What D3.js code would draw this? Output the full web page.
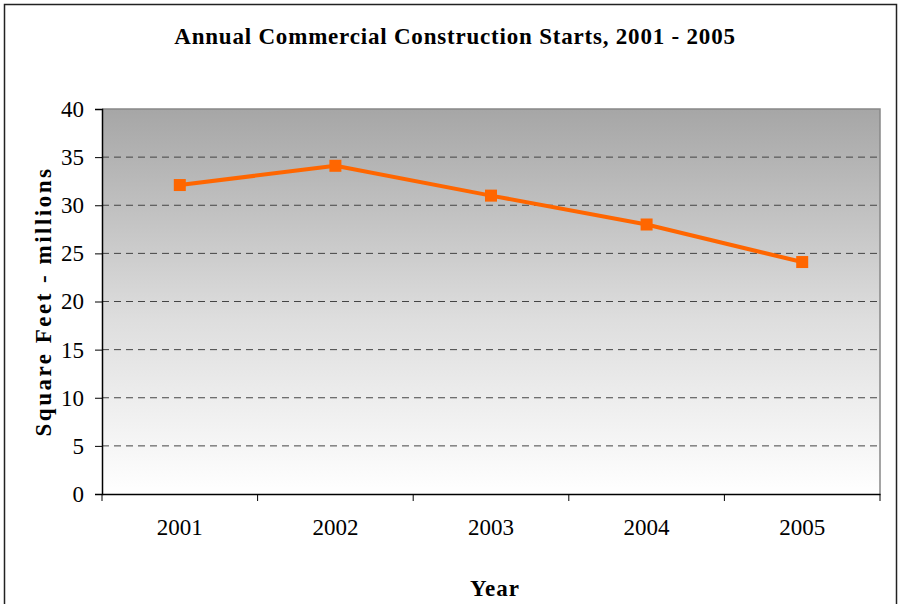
<!DOCTYPE html>
<html><head><meta charset="utf-8">
<script src="https://cdn.jsdelivr.net/npm/d3@7"></script>
<style>body{margin:0;background:#fff}svg{display:block}</style>
</head><body>
<script>
const years = ["2001","2002","2003","2004","2005"];
const values = [32.1, 34.1, 31.0, 28.0, 24.1];
const yTicks = [0,5,10,15,20,25,30,35,40];
const title = "Annual Commercial Construction Starts, 2001 - 2005";
const xTitle = "Year";
const yTitle = "Square Feet - millions";

const W = 900, H = 604;
const m = {left:102, right:20, top:109, bottom:110};
const svg = d3.select("body").append("svg").attr("width",W).attr("height",H);
const font = "'Liberation Serif','Times New Roman',serif";

svg.append("rect").attr("x",4.5).attr("y",4.5).attr("width",892).attr("height",610)
  .attr("fill","#fff").attr("stroke","#222").attr("stroke-width",1.5);

const x = d3.scaleBand().domain(years).range([m.left, W-m.right]);
const y = d3.scaleLinear().domain([0,40]).range([H-m.bottom, m.top]);

const defs = svg.append("defs");
const g = defs.append("linearGradient").attr("id","bg").attr("x1",0).attr("y1",0).attr("x2",0).attr("y2",1);
g.append("stop").attr("offset","0%").attr("stop-color","#a6a6a6");
g.append("stop").attr("offset","55%").attr("stop-color","#dedede");
g.append("stop").attr("offset","100%").attr("stop-color","#ffffff");

svg.append("rect").attr("x",m.left).attr("y",y(40)).attr("width",W-m.right-m.left)
  .attr("height",y(0)-y(40)).attr("fill","url(#bg)");

// gridlines
svg.append("g").selectAll("line").data(yTicks.filter(d=>d>0 && d<40)).join("line")
  .attr("x1",m.left).attr("x2",W-m.right).attr("y1",d=>y(d)).attr("y2",d=>y(d))
  .attr("stroke","#444").attr("stroke-width",1).attr("stroke-dasharray","7,5");

// top & right border of plot
svg.append("path").attr("d",`M${m.left},${y(40)}H${W-m.right}V${y(0)}`)
  .attr("fill","none").attr("stroke","#888").attr("stroke-width",1.5);

// y axis
const ya = svg.append("g").attr("transform",`translate(${m.left},0)`)
  .call(d3.axisLeft(y).tickValues(yTicks).tickSize(7).tickPadding(11));
ya.select(".domain").attr("stroke","#000").attr("stroke-width",1.5);
ya.selectAll(".tick line").attr("stroke","#000");
ya.selectAll("text").attr("font-family",font).attr("font-size",23).attr("fill","#000");

// x axis
const xa = svg.append("g").attr("transform",`translate(0,${y(0)})`)
  .call(d3.axisBottom(x).tickSize(0).tickPadding(25));
xa.select(".domain").attr("stroke","#000").attr("stroke-width",1.5);
xa.selectAll("text").attr("font-family",font).attr("font-size",23).attr("fill","#000");
svg.append("g").selectAll("line").data(years.concat(["end"])).join("line")
  .attr("x1",(d,i)=> i<years.length ? x(d) : x(years[years.length-1])+x.bandwidth())
  .attr("x2",(d,i)=> i<years.length ? x(d) : x(years[years.length-1])+x.bandwidth())
  .attr("y1",y(0)).attr("y2",y(0)+7).attr("stroke","#000");

// line
const line = d3.line().x((d,i)=>x(years[i])+x.bandwidth()/2).y(d=>y(d));
svg.append("path").datum(values).attr("d",line).attr("fill","none")
  .attr("stroke","#ff6600").attr("stroke-width",4).attr("stroke-linejoin","round");
svg.append("g").selectAll("rect").data(values).join("rect")
  .attr("x",(d,i)=>x(years[i])+x.bandwidth()/2-6).attr("y",d=>y(d)-6)
  .attr("width",12).attr("height",12).attr("fill","#ff6600");

// titles
svg.append("text").attr("x",455).attr("y",44).attr("text-anchor","middle")
  .attr("font-family",font).attr("font-weight","bold").attr("font-size",23)
  .attr("letter-spacing","0.8px").text(title);
svg.append("text").attr("x",495).attr("y",596).attr("text-anchor","middle")
  .attr("font-family",font).attr("font-weight","bold").attr("font-size",23)
  .attr("letter-spacing","1px").text(xTitle);
svg.append("text").attr("transform",`translate(51,${(y(0)+y(40))/2}) rotate(-90)`)
  .attr("text-anchor","middle")
  .attr("font-family",font).attr("font-weight","bold").attr("font-size",23)
  .attr("letter-spacing","2.5px").text(yTitle);
</script>
</body></html>
